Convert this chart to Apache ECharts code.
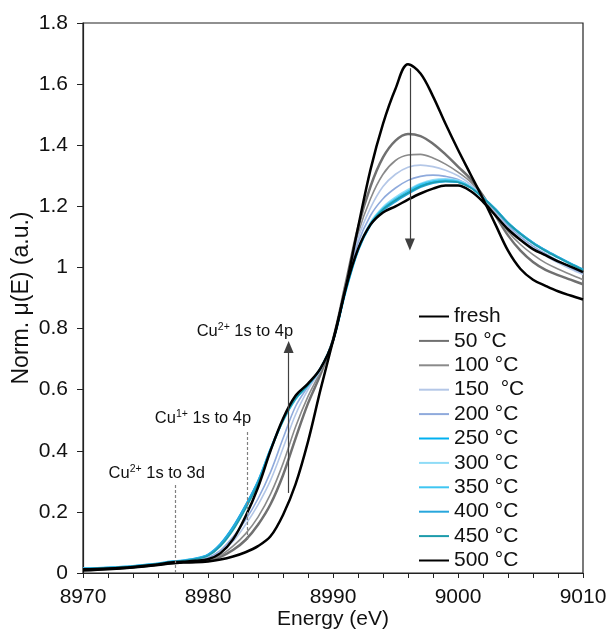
<!DOCTYPE html>
<html><head><meta charset="utf-8">
<script src="https://cdn.jsdelivr.net/npm/echarts@6/dist/echarts.min.js"></script>
<style>html,body{margin:0;padding:0;background:#fff}#c{width:610px;height:632px}</style>
</head><body><div id="c"></div>
<script>
// Energy grid (eV)
const energy = [8970,8972,8974,8976,8977,8978,8979,8980,8981,8982,8983,8984,8985,8986,8987,8988,8989,8990,8991,8992,8993,8994,8995,8996,8997,8998,8999,9000,9001,9002,9003,9004,9005,9006,9007,9008,9009,9010];

const fresh = [0.008,0.012,0.018,0.026,0.031,0.034,0.035,0.038,0.044,0.054,0.068,0.088,0.120,0.190,0.290,0.430,0.600,0.760,0.930,1.130,1.320,1.470,1.585,1.665,1.635,1.560,1.470,1.385,1.305,1.225,1.140,1.055,0.995,0.960,0.940,0.922,0.908,0.895];
const t50 = [0.012,0.014,0.019,0.027,0.032,0.035,0.037,0.042,0.053,0.075,0.108,0.158,0.225,0.320,0.440,0.555,0.650,0.765,0.945,1.130,1.265,1.360,1.415,1.437,1.430,1.405,1.370,1.330,1.290,1.235,1.170,1.105,1.055,1.018,0.992,0.975,0.960,0.945];
const t100 = [0.012,0.015,0.020,0.028,0.033,0.036,0.038,0.044,0.058,0.088,0.128,0.183,0.258,0.358,0.478,0.578,0.660,0.765,0.940,1.110,1.225,1.305,1.350,1.368,1.370,1.358,1.338,1.312,1.280,1.232,1.175,1.118,1.075,1.042,1.015,0.995,0.977,0.960];
const t150 = [0.013,0.015,0.020,0.028,0.034,0.037,0.040,0.047,0.066,0.103,0.158,0.223,0.303,0.408,0.518,0.600,0.665,0.762,0.935,1.095,1.195,1.265,1.305,1.328,1.335,1.330,1.318,1.300,1.272,1.230,1.182,1.132,1.092,1.062,1.038,1.015,0.995,0.977];
const t200 = [0.013,0.016,0.021,0.029,0.035,0.038,0.042,0.050,0.074,0.118,0.173,0.243,0.330,0.440,0.545,0.610,0.668,0.760,0.930,1.080,1.170,1.225,1.260,1.285,1.298,1.302,1.298,1.288,1.265,1.228,1.185,1.138,1.100,1.070,1.045,1.022,1.000,0.982];
const t250 = [0.015,0.018,0.023,0.031,0.037,0.041,0.047,0.060,0.095,0.150,0.220,0.300,0.405,0.500,0.570,0.615,0.670,0.760,0.920,1.055,1.140,1.190,1.220,1.245,1.268,1.280,1.283,1.280,1.262,1.228,1.190,1.145,1.110,1.080,1.055,1.033,1.012,0.992];
const t300 = [0.015,0.018,0.023,0.031,0.037,0.041,0.046,0.058,0.092,0.146,0.215,0.295,0.400,0.497,0.568,0.614,0.670,0.760,0.922,1.060,1.148,1.198,1.230,1.255,1.275,1.287,1.290,1.285,1.265,1.230,1.190,1.146,1.110,1.080,1.054,1.032,1.011,0.991];
const t350 = [0.014,0.017,0.022,0.030,0.036,0.040,0.046,0.058,0.092,0.147,0.216,0.296,0.402,0.498,0.569,0.614,0.670,0.760,0.921,1.058,1.144,1.194,1.225,1.250,1.272,1.283,1.286,1.282,1.263,1.229,1.190,1.146,1.111,1.081,1.056,1.034,1.013,0.993];
const t400 = [0.015,0.018,0.023,0.031,0.037,0.041,0.047,0.060,0.094,0.150,0.221,0.301,0.406,0.501,0.571,0.616,0.670,0.760,0.920,1.055,1.138,1.186,1.215,1.240,1.262,1.276,1.281,1.279,1.262,1.229,1.191,1.147,1.112,1.082,1.057,1.035,1.014,0.994];
const t450 = [0.014,0.017,0.022,0.030,0.036,0.040,0.045,0.056,0.088,0.140,0.210,0.292,0.400,0.498,0.570,0.615,0.670,0.760,0.922,1.058,1.142,1.190,1.220,1.244,1.265,1.278,1.282,1.279,1.261,1.228,1.189,1.145,1.109,1.079,1.054,1.032,1.011,0.991];
const t500 = [0.012,0.015,0.020,0.028,0.034,0.037,0.040,0.045,0.065,0.110,0.185,0.280,0.400,0.505,0.580,0.620,0.670,0.760,0.930,1.060,1.140,1.180,1.200,1.222,1.242,1.258,1.268,1.268,1.250,1.215,1.170,1.125,1.090,1.060,1.040,1.020,1.003,0.985];

const seriesNames = ['fresh','50 °C','100 °C','150  °C','200 °C','250 °C','300 °C','350 °C','400 °C','450 °C','500 °C'];
const seriesValues = [fresh,t50,t100,t150,t200,t250,t300,t350,t400,t450,t500];

// styles (kept apart from data)
const colors = ['#000000','#707070','#8a8a8a','#b4c7e7','#8faadc','#00b0f0','#8fdcf7','#3fc6f2','#27a6dc','#1c9bab','#000000'];
const widths = [2.5,2.5,1.6,1.6,1.6,2.2,1.6,1.6,1.6,1.6,2.5];

// axis ranges
const xTicks = {min:8970, max:9010, step:10, minorStep:2};
const yTicks = {min:0, max:1.8, step:0.2};
// annotation data
const arrowUp = [[8986.45,0.262],[8986.45,0.74]];
const arrowDown = [[8996.15,1.652],[8996.15,1.075]];
const dotCu1 = [[8983.1,0.108],[8983.1,0.468]];
const dotCu2 = [[8977.35,0.0],[8977.35,0.288]];
const labels = [
  {ion:'Cu', ch:'2+', rest:' 1s to 4p', at:[8982.95,0.792]},
  {ion:'Cu', ch:'1+', rest:' 1s to 4p', at:[8979.6,0.507]},
  {ion:'Cu', ch:'2+', rest:' 1s to 3d', at:[8975.9,0.327]}
];

const FONT = "'Liberation Sans', Arial, sans-serif";
const TXT = '#111';

const series = seriesNames.map((n,i)=>({
  name:n, type:'line', smooth:0.35, symbol:'none', showSymbol:false,
  data: energy.map((e,k)=>[e, seriesValues[i][k]]),
  lineStyle:{color:colors[i], width:widths[i]},
  itemStyle:{color:colors[i]},
  emphasis:{disabled:true}, z: (i===0||i===10)?3:2
}));

series.push({
  name:'annot', type:'line', data:[], silent:true, z:5,
  markLine:{
    silent:true, animation:false,
    label:{show:false},
    data:[
      [{coord:arrowUp[0], symbol:'none', lineStyle:{color:'#404040', width:1.2, type:'solid'}},{coord:arrowUp[1], symbol:'triangle', symbolSize:[10,12]}],
      [{coord:arrowDown[0], symbol:'none', lineStyle:{color:'#404040', width:1.2, type:'solid'}},{coord:arrowDown[1], symbol:'triangle', symbolSize:[10,12]}],
      [{coord:dotCu1[0], symbol:'none', lineStyle:{color:'#808080', width:1.2, type:[3,2]}},{coord:dotCu1[1], symbol:'none'}],
      [{coord:dotCu2[0], symbol:'none', lineStyle:{color:'#808080', width:1.2, type:[3,2]}},{coord:dotCu2[1], symbol:'none'}]
    ]
  },
  markPoint:{
    silent:true, animation:false, symbol:'circle', symbolSize:0,
    label:{
      show:true, position:'inside', color:TXT, fontFamily:FONT,
      formatter:(p)=>'{b|'+p.data.ion+'}{s|'+p.data.ch+'}{b|'+p.data.rest+'}',
      rich:{
        b:{fontSize:16.5, fontFamily:FONT, color:TXT, lineHeight:18},
        s:{fontSize:10.5, fontFamily:FONT, color:TXT, verticalAlign:'top', lineHeight:12}
      }
    },
    data: labels.map(l=>({coord:l.at, ion:l.ion, ch:l.ch, rest:l.rest}))
  }
});

const chart = echarts.init(document.getElementById('c'), null, {renderer:'canvas'});
chart.setOption({
  animation:false,
  backgroundColor:'#fff',
  textStyle:{fontFamily:FONT},
  grid:{left:83, right:27, top:23, bottom:59, containLabel:false, outerBoundsMode:'none',
        show:true, borderColor:'#222', borderWidth:1.2, backgroundColor:'transparent'},
  legend:{
    data:seriesNames, orient:'vertical', left:418, top:306, padding:0,
    itemWidth:30, itemHeight:14, itemGap:3.4, selectedMode:false,
    itemStyle:{opacity:0, borderWidth:0},
    textStyle:{fontSize:21, fontFamily:FONT, color:TXT, lineHeight:20}
  },
  xAxis:[{
    type:'value', min:xTicks.min, max:xTicks.max, interval:xTicks.step,
    name:'Energy (eV)', nameLocation:'middle', nameGap:36, nameMoveOverlap:false,
    nameTextStyle:{fontSize:21, fontFamily:FONT, color:TXT},
    axisLine:{show:true, lineStyle:{color:'#222', width:1.2}},
    axisTick:{show:true, length:5, lineStyle:{color:'#222'}},
    splitLine:{show:false},
    axisLabel:{fontSize:21, fontFamily:FONT, color:TXT, margin:14, formatter:(v)=>String(v)}
  },{
    type:'value', min:xTicks.min, max:xTicks.max, interval:xTicks.minorStep, position:'bottom',
    axisLine:{show:false}, axisLabel:{show:false}, splitLine:{show:false},
    axisTick:{show:true, length:5, lineStyle:{color:'#222'}}
  }],
  yAxis:{
    type:'value', min:yTicks.min, max:yTicks.max, interval:yTicks.step,
    name:'Norm. μ(E) (a.u.)', nameLocation:'middle', nameGap:50, nameRotate:90, nameMoveOverlap:false,
    nameTextStyle:{fontSize:23, fontFamily:FONT, color:TXT},
    axisLine:{show:true, lineStyle:{color:'#222', width:1.2}},
    axisTick:{show:true, length:6, lineStyle:{color:'#222'}},
    splitLine:{show:false},
    axisLabel:{fontSize:21, fontFamily:FONT, color:TXT, margin:15}
  },
  series:series
});
</script></body></html>
